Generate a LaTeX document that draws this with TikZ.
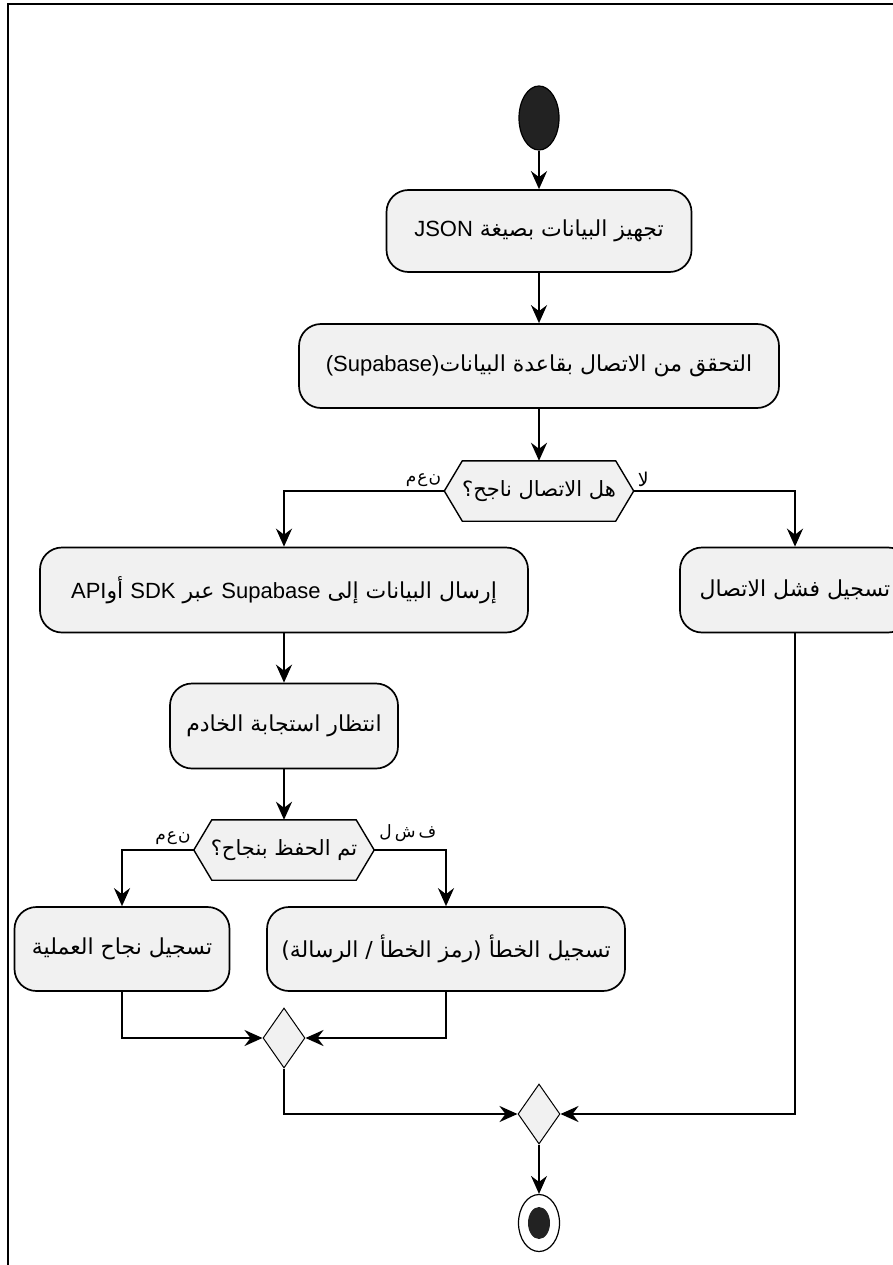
\documentclass[tikz,border=0pt]{standalone}
\usepackage{fontspec}
\usetikzlibrary{arrows.meta,shapes.geometric,backgrounds}
\TeXXeTstate=1
\newfontfamily\arfont[Script=Arabic]{DejaVu Sans}
\newfontfamily\latfont{Liberation Sans}
\definecolor{boxfill}{HTML}{F1F1F1}
\definecolor{dotfill}{HTML}{222222}

\begin{document}
\begin{tikzpicture}[x=1pt,y=-1pt,
  activity/.style={draw=black, line width=1.7pt, fill=boxfill, rounded corners=22pt,
    inner sep=0pt, font=\arfont\fontsize{22}{26}\selectfont},
  hexnode/.style={inner sep=0pt, minimum height=60pt, font=\arfont\fontsize{21}{25}\selectfont},
  hexline/.style={draw=black, line width=1.4pt, fill=boxfill},
  merge/.style={diamond, draw=black, line width=1pt, fill=boxfill, inner sep=0pt,
    minimum width=42pt, minimum height=60pt},
  startdot/.style={ellipse, draw=black, line width=1.2pt, fill=dotfill, inner sep=0pt,
    minimum width=40pt, minimum height=64pt},
  endring/.style={ellipse, draw=black, line width=1.2pt, fill=white, inner sep=0pt,
    minimum width=41pt, minimum height=57pt},
  enddot/.style={ellipse, fill=dotfill, inner sep=0pt, minimum width=22pt, minimum height=32pt},
  flow/.style={line width=2.5pt, -{Stealth[length=18pt,width=16pt,inset=6pt]}},
  guard/.style={font=\arfont\fontsize{17}{19}\selectfont, inner sep=1pt}
]
\useasboundingbox (0,0) rectangle (893,1265);
% frame
\draw[line width=2.5pt] (8,1265) -- (8,4) -- (893,4);

% nodes
\node[startdot] (start) at (539,118) {};
\node[activity, minimum width=305pt, minimum height=82pt] (b1) at (539,231)
  {\beginR تجهيز البيانات بصيغة {\latfont JSON}\endR};
\node[activity, minimum width=480pt, minimum height=84pt] (b2) at (539,366)
  {\beginR التحقق من الاتصال بقاعدة البيانات\beginL{\latfont (Supabase)}\endL\endR};
\node[hexnode, minimum width=189pt] (d1) at (539,491)
  {\beginR هل الاتصال ناجح؟\endR};
\node[activity, minimum width=488pt, minimum height=85pt] (b3) at (284,590)
  {\beginR إرسال البيانات إلى {\latfont Supabase} عبر {\latfont SDK} أو\beginL{\latfont API}\endL\endR};
\node[activity, minimum width=230pt, minimum height=85pt] (b4) at (795,590)
  {\beginR تسجيل فشل الاتصال\endR};
\node[activity, minimum width=228pt, minimum height=85pt] (b5) at (284,726)
  {\beginR انتظار استجابة الخادم\endR};
\node[hexnode, minimum width=180pt] (d2) at (284,850)
  {\beginR تم الحفظ بنجاح؟\endR};
\node[activity, minimum width=215pt, minimum height=84pt] (b6) at (122,949)
  {\beginR تسجيل نجاح العملية\endR};
\node[activity, minimum width=358pt, minimum height=84pt] (b7) at (446,949)
  {\beginR تسجيل الخطأ (رمز الخطأ / الرسالة)\endR};
\node[merge] (m1) at (284,1038) {};
\node[merge] (m2) at (539,1114) {};
\node[endring] (end) at (539,1223) {};
\node[enddot] (endin) at (end.center) {};

% decision outlines
\begin{scope}[on background layer]
  \foreach \d in {d1,d2}
    \draw[hexline] (\d.west) -- ([xshift=18pt]\d.north west) -- ([xshift=-18pt]\d.north east)
      -- (\d.east) -- ([xshift=-18pt]\d.south east) -- ([xshift=18pt]\d.south west) -- cycle;
\end{scope}

% guards
\node[guard, anchor=south east] (g1) at ([xshift=-2pt,yshift=3pt]d1.west)
  {\beginR ن\kern1pt ع\kern1pt م\endR};
\node[guard, anchor=south west, font=\arfont\fontsize{19}{21}\selectfont] (g2)
  at ([xshift=3pt,yshift=3pt]d1.east) {\beginR لا\endR};
\node[guard, anchor=south east] (g3) at ([xshift=-2pt,yshift=4pt]d2.west)
  {\beginR ن\kern1pt ع\kern1pt م\endR};
\node[guard, anchor=south west] (g4) at ([xshift=4pt,yshift=7pt]d2.east)
  {\beginR ف\kern3pt ش\kern3pt ل\endR};

% connectors
\draw[flow] (start) -- (b1);
\draw[flow] (b1) -- (b2);
\draw[flow] (b2) -- (d1.north);
\draw[flow] (d1.west) -| (b3.north);
\draw[flow] (d1.east) -| (b4.north);
\draw[flow] (b3) -- (b5);
\draw[flow] (b5) -- (d2.north);
\draw[flow] (d2.west) -| (b6.north);
\draw[flow] (d2.east) -| (b7.north);
\draw[flow] (b6.south) |- (m1.west);
\draw[flow] (b7.south) |- (m1.east);
\draw[flow] (m1.south) |- (m2.west);
\draw[flow] (b4.south) |- (m2.east);
\draw[flow, line width=1.5pt] (m2.south) -- (end.north);
\end{tikzpicture}
\end{document}
